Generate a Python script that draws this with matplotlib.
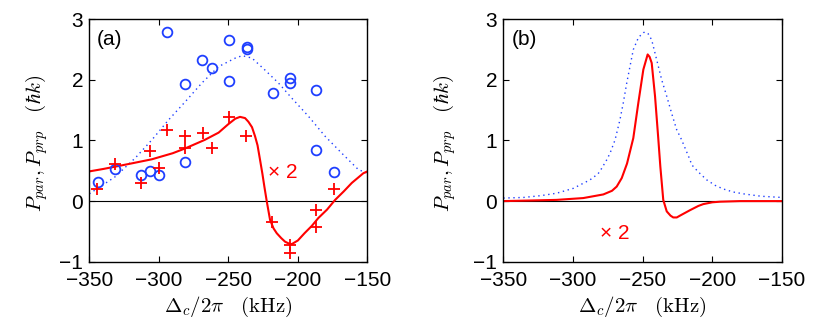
import matplotlib
matplotlib.use("Agg")
import matplotlib.pyplot as plt

plt.rcParams['font.family'] = ['Liberation Sans', 'DejaVu Sans']
plt.rcParams['mathtext.fontset'] = 'cm'

# ---- panel (a): measured data ----
circ_x = [-343.7, -331.5, -312.8, -306.3, -300.1, -293.9, -281.4, -281.4, -268.7, -262.0,
          -249.5, -249.5, -236.8, -236.8, -218.1, -205.6, -205.6, -186.7, -186.7, -174.0]
circ_y = [0.31, 0.53, 0.43, 0.50, 0.43, 2.79, 1.93, 0.64, 2.33, 2.20,
          2.66, 1.99, 2.54, 2.51, 1.79, 2.03, 1.95, 1.84, 0.85, 0.48]

plus_x = [-344.2, -331.5, -312.8, -306.3, -300.1, -293.9, -281.4, -281.4, -268.4, -262.0,
          -249.5, -237.0, -218.3, -205.6, -205.6, -186.7, -186.7, -174.0]
plus_y = [0.20, 0.61, 0.30, 0.83, 0.54, 1.18, 1.08, 0.87, 1.12, 0.88,
          1.39, 1.07, -0.35, -0.72, -0.86, -0.15, -0.43, 0.20]

# panel (a) theory curves
a_red_x = [-350, -340, -331, -320, -305, -290, -281, -267, -257, -250, -245, -241.6, -238,
           -235.6, -233, -230.8, -229, -227.2, -225.5, -224.1, -222.4, -220, -217.5, -215.2,
           -212, -209.2, -206.5, -204.4, -200, -195.2, -190, -185.3, -179, -173.2, -167,
           -161.2, -156, -152.9, -150]
a_red_y = [0.49, 0.53, 0.57, 0.62, 0.69, 0.79, 0.87, 1.01, 1.13, 1.27, 1.36, 1.39, 1.37,
           1.31, 1.22, 1.07, 0.92, 0.68, 0.45, 0.24, 0.00, -0.31, -0.45, -0.53,
           -0.61, -0.67, -0.70, -0.71, -0.65, -0.53, -0.41, -0.28, -0.14, 0.02, 0.16,
           0.30, 0.40, 0.46, 0.49]

a_blue_x = [-350, -340, -331.5, -317, -305, -293, -281, -269, -257, -245, -240, -233, -224,
            -214, -204.4, -192.4, -180.4, -168.4, -156.5, -150]
a_blue_y = [0.12, 0.27, 0.40, 0.71, 1.01, 1.34, 1.64, 1.95, 2.22, 2.36, 2.40, 2.36, 2.17,
            1.95, 1.70, 1.40, 1.07, 0.79, 0.52, 0.46]

# ---- panel (b): theory curves ----
b_blue_x = [-350, -335.6, -323, -311.7, -299.8, -287.8, -282, -279.4, -275.8, -273.4, -269.8,
            -266.3, -263.9, -261.4, -259.1, -256.7, -253, -249.5, -248, -246, -243.5, -239.9,
            -236.3, -232.7, -229.2, -225.6, -222, -216, -214.8, -210, -204, -198, -192.1,
            -185, -177.8, -165, -150]
b_blue_y = [0.05, 0.06, 0.09, 0.13, 0.21, 0.35, 0.45, 0.54, 0.68, 0.79, 1.01,
            1.34, 1.62, 1.95, 2.22, 2.50, 2.70, 2.78, 2.79, 2.76, 2.66, 2.33,
            2.00, 1.73, 1.45, 1.18, 1.01, 0.68, 0.60, 0.48, 0.35, 0.26, 0.20,
            0.15, 0.12, 0.08, 0.06]

b_red_x = [-350, -330, -311.7, -292.6, -278.2, -272, -268.6, -265, -261.2, -256.7, -253.1,
           -249.5, -246.4, -245, -243.5, -241.1, -238.8, -237.3, -235.2, -232.7, -230,
           -228, -225.5, -223.2, -216, -210, -206.5, -200, -194.5, -180, -150]
b_red_y = [0.00, 0.01, 0.02, 0.05, 0.11, 0.17, 0.24, 0.38, 0.62, 1.04, 1.62,
           2.17, 2.42, 2.38, 2.28, 1.73, 1.04, 0.57, 0.02, -0.17, -0.24,
           -0.27, -0.27, -0.24, -0.15, -0.08, -0.05, -0.02, -0.01, 0.00, 0.00]

xticks = [-350, -300, -250, -200, -150]
yticks = [-1, 0, 1, 2, 3]
xticklabels = ['\u2212350', '\u2212300', '\u2212250', '\u2212200', '\u2212150']
yticklabels = ['\u22121', '0', '1', '2', '3']
blue = '#1f3fff'
red = '#ff0000'
fs = 15

fig = plt.figure(figsize=(8.34, 3.34), dpi=100)
axA = fig.add_axes([0.1071, 0.2165, 0.3334, 0.7257])
axB = fig.add_axes([0.6035, 0.2165, 0.3341, 0.7257])

for ax, ylab_x in ((axA, -0.141), (axB, -0.164)):
    ax.axhline(0, color='black', lw=0.8, zorder=1)
    ax.set_xlim(-350, -150)
    ax.set_ylim(-1, 3)
    ax.set_xticks(xticks)
    ax.set_yticks(yticks)
    ax.set_xticklabels(xticklabels)
    ax.set_yticklabels(yticklabels)
    ax.tick_params(direction='in', top=True, right=True, length=4, width=0.8,
                   labelsize=fs)
    ax.tick_params(axis='x', pad=7)
    ax.tick_params(axis='y', pad=4.5)
    for s in ax.spines.values():
        s.set_linewidth(1.0)
    ax.set_xlabel(r'$\Delta_c/2\pi\quad(\mathrm{kHz})$', fontsize=fs)
    ax.xaxis.set_label_coords(0.5, -0.135)
    ax.set_ylabel(r'$P_{par}, P_{prp}\quad(\hbar k)$', fontsize=fs)
    ax.yaxis.set_label_coords(ylab_x, 0.487)

axA.plot(a_blue_x, a_blue_y, color=blue, lw=1.0, dashes=(1, 2.6))
axA.plot(a_red_x, a_red_y, '-', color=red, lw=1.5)
axA.plot(circ_x, circ_y, 'o', mfc='none', mec=blue, ms=7, mew=1.3, ls='none')
axA.plot(plus_x, plus_y, '+', color=red, ms=8, mew=1.3, ls='none')
axA.text(-344.7, 2.66, '(a)', fontsize=fs, va='center', ha='left')
axA.text(-221.5, 0.47, '\u00d7 2', fontsize=fs, va='center', ha='left', color=red)

axB.plot(b_blue_x, b_blue_y, color=blue, lw=1.0, dashes=(1, 2.6))
axB.plot(b_red_x, b_red_y, '-', color=red, lw=1.5)
axB.text(-344.0, 2.66, '(b)', fontsize=fs, va='center', ha='left')
axB.text(-280.6, -0.53, '\u00d7 2', fontsize=fs, va='center', ha='left', color=red)

fig.savefig('out.png', dpi=100)
